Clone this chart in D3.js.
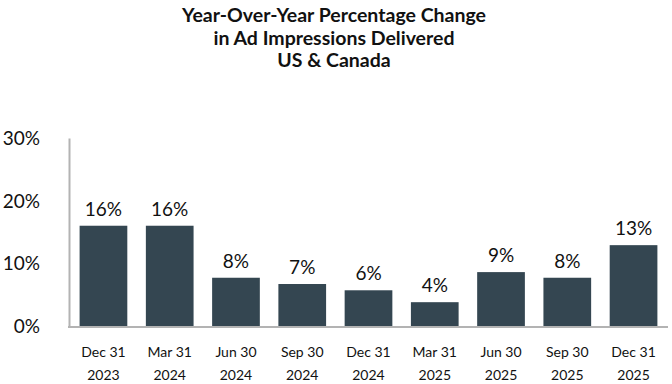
<!DOCTYPE html>
<html>
<head>
<meta charset="utf-8">
<script src="https://cdn.jsdelivr.net/npm/d3@7"></script>
<style>
  body { margin: 0; background: #fff; }
  text { font-family: Lato, "Open Sans", sans-serif; fill: #111; }
</style>
</head>
<body>
<svg id="chart" width="672" height="384"></svg>
<script>
// data
var periods = ["Dec 31", "Mar 31", "Jun 30", "Sep 30", "Dec 31", "Mar 31", "Jun 30", "Sep 30", "Dec 31"];
var years = ["2023", "2024", "2024", "2024", "2024", "2025", "2025", "2025", "2025"];
var yoyChange = [16, 16, 7.7, 6.7, 5.7, 3.8, 8.6, 7.7, 12.9];
var yTicks = [0, 10, 20, 30];
var titleLines = ["Year-Over-Year Percentage Change", "in Ad Impressions Delivered", "US & Canada"];

var svg = d3.select("#chart");
var margin = {left: 69, right: 4, top: 138, bottom: 58};
var width = 672, height = 384;

var x = d3.scaleBand()
    .domain(d3.range(periods.length))
    .range([margin.left, width - margin.right])
    .paddingInner(0.28)
    .paddingOuter(0.16);

var y = d3.scaleLinear()
    .domain([0, 30])
    .range([height - margin.bottom, margin.top]);

// title
svg.append("g").selectAll("text")
    .data(titleLines)
  .enter().append("text")
    .attr("x", 334)
    .attr("y", function(d, i) { return 22 + i * 22.5; })
    .attr("text-anchor", "middle")
    .style("font-size", "19.5px")
    .style("font-weight", "bold")
    .text(function(d) { return d; });

// bars
svg.append("g").selectAll("rect")
    .data(yoyChange)
  .enter().append("rect")
    .attr("x", function(d, i) { return x(i); })
    .attr("y", function(d) { return y(d); })
    .attr("width", x.bandwidth())
    .attr("height", function(d) { return y(0) - y(d); })
    .style("fill", "#344651");

// value labels
svg.append("g").selectAll("text")
    .data(yoyChange)
  .enter().append("text")
    .attr("x", function(d, i) { return x(i) + x.bandwidth() / 2; })
    .attr("y", function(d) { return y(d) - 10; })
    .attr("text-anchor", "middle")
    .style("font-size", "19px")
    .text(function(d) { return Math.round(d) + "%"; });

// y axis
var yAxis = d3.axisLeft(y)
    .tickValues(yTicks)
    .tickSize(0)
    .tickPadding(29)
    .tickFormat(function(d) { return d + "%"; });

var gy = svg.append("g")
    .attr("transform", "translate(" + margin.left + ",0)")
    .call(yAxis);
gy.select(".domain").attr("stroke", "#b3b3b3").attr("stroke-width", 2);
gy.selectAll(".tick text")
    .attr("dy", "0.35em")
    .style("font-size", "19px")
    .style("font-family", "Lato, 'Open Sans', sans-serif")
    .attr("fill", "#111");

// baseline
svg.append("line")
    .attr("x1", margin.left - 1)
    .attr("x2", width - margin.right)
    .attr("y1", y(0) + 1)
    .attr("y2", y(0) + 1)
    .attr("stroke", "#b3b3b3")
    .attr("stroke-width", 2);

// category labels
var cats = svg.append("g").selectAll("text")
    .data(periods)
  .enter().append("text")
    .attr("text-anchor", "middle")
    .attr("x", function(d, i) { return x(i) + x.bandwidth() / 2; })
    .style("font-size", "14px");

cats.append("tspan")
    .attr("x", function(d, i) { return x(i) + x.bandwidth() / 2; })
    .attr("y", 357)
    .text(function(d) { return d; });
cats.append("tspan")
    .attr("x", function(d, i) { return x(i) + x.bandwidth() / 2; })
    .attr("y", 380)
    .text(function(d, i) { return years[i]; });
</script>
</body>
</html>
